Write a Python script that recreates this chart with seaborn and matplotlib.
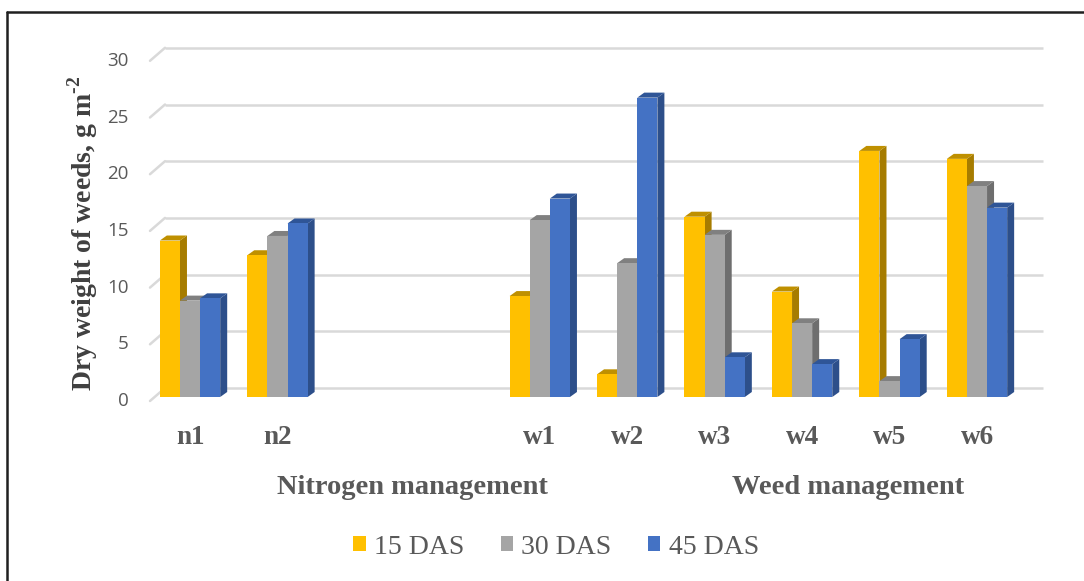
import numpy as np
import pandas as pd
import matplotlib.pyplot as plt
import matplotlib.transforms as mtransforms
from matplotlib.patches import Polygon, Patch
from matplotlib.lines import Line2D
import seaborn as sns

# data (gaps are the two empty slots between groups)
treatments = ["n1", "n2", "gap1", "gap2", "w1", "w2", "w3", "w4", "w5", "w6"]
tick_labels = ["n1", "n2", "", "", "w1", "w2", "w3", "w4", "w5", "w6"]
das_15 = [13.8, 12.5, np.nan, np.nan, 8.9, 2.0, 15.9, 9.3, 21.7, 21.0]
das_30 = [8.5, 14.2, np.nan, np.nan, 15.6, 11.8, 14.3, 6.5, 1.4, 18.6]
das_45 = [8.7, 15.3, np.nan, np.nan, 17.5, 26.4, 3.5, 2.9, 5.1, 16.7]
stages = ["15 DAS", "30 DAS", "45 DAS"]
y_ticks = [0, 5, 10, 15, 20, 25, 30]

front = ["#FFC000", "#A5A5A5", "#4472C4"]
side = ["#A67C00", "#6E6E6E", "#2D4F8A"]
top = ["#BF9000", "#808080", "#2F5597"]

df = pd.DataFrame({"treatment": treatments, "15 DAS": das_15,
                   "30 DAS": das_30, "45 DAS": das_45})
df = df.melt(id_vars="treatment", var_name="stage", value_name="value").dropna()

sns.set_theme(style="white")
plt.rcParams["font.family"] = ["Liberation Serif", "DejaVu Sans"]
plt.rcParams["mathtext.fontset"] = "custom"
plt.rcParams["mathtext.rm"] = "Liberation Serif:bold"
plt.rcParams["mathtext.bf"] = "Liberation Serif:bold"

W, H = 1084, 581
fig = plt.figure(figsize=(W / 100, H / 100), dpi=100)
left_px, right_px, base_px, top_px = 146.3, 1020.7, 397, 56.8
ax = fig.add_axes([left_px / W, (H - base_px) / H,
                   (right_px - left_px) / W, (base_px - top_px) / H])

sns.barplot(data=df, x="treatment", y="value", hue="stage", order=treatments,
            hue_order=stages, palette=front, saturation=1, width=0.69,
            errorbar=None, legend=False, ax=ax, zorder=3, linewidth=0)
ax.set_xlim(-0.5, 9.5)
ax.set_ylim(0, 30)
for s in ax.spines.values():
    s.set_visible(False)
ax.set_xticks([])
ax.set_yticks([])
ax.set_xlabel("")
ax.set_ylabel("")
ax.patch.set_alpha(0)

# pseudo 3D: side and top faces
px_x = (right_px - left_px) / 10.0
px_y = (base_px - top_px) / 30.0
ddx, ddy = 7 / px_x, 5 / px_y
for k, cont in enumerate(ax.containers):
    for p in cont:
        h = p.get_height()
        if not np.isfinite(h) or h == 0:
            continue
        x0, w = p.get_x(), p.get_width()
        x1 = x0 + w
        ax.add_patch(Polygon([(x1, 0), (x1 + ddx, ddy), (x1 + ddx, h + ddy), (x1, h)],
                             closed=True, facecolor=side[k], edgecolor="none", zorder=2))
        ax.add_patch(Polygon([(x0, h), (x0 + ddx, h + ddy), (x1 + ddx, h + ddy), (x1, h)],
                             closed=True, facecolor=top[k], edgecolor="none", zorder=2))

# back wall gridlines with diagonal floor ticks
back = mtransforms.offset_copy(ax.transData, fig=fig, x=15, y=9, units="dots")
diag_front = mtransforms.offset_copy(ax.transData, fig=fig, x=0, y=-4, units="dots")
x_front_left = -0.5 + 3.7 / px_x
x_right = -0.5 + (1028 - left_px) / px_x
for v in y_ticks:
    ax.plot([x_front_left, x_right], [v, v], color="#D9D9D9", lw=1.8,
            transform=back, clip_on=False, zorder=0, solid_capstyle="butt")
    p0 = diag_front.transform((x_front_left, v))
    p1 = back.transform((x_front_left, v))
    fig.add_artist(Line2D([p0[0] / W, p1[0] / W], [p0[1] / H, p1[1] / H],
                          color="#D9D9D9", lw=1.8, zorder=0))
    ax.text(-0.5, v, str(v), transform=mtransforms.offset_copy(
        ax.transData, fig=fig, x=-18, y=-4, units="dots"),
        ha="right", va="center", fontsize=13.5, color="#595959",
        family=["Open Sans", "DejaVu Sans"])

# category labels
for i, lab in enumerate(tick_labels):
    if lab:
        ax.text(i, 0, lab, transform=mtransforms.offset_copy(
            ax.transData, fig=fig, x=0, y=-40, units="dots"),
            ha="center", va="center", fontsize=19.5, fontweight="bold", color="#595959")

fig.text(412 / W, 1 - 488 / H, "Nitrogen management", ha="center", va="center",
         fontsize=20.5, fontweight="bold", color="#595959")
fig.text(848 / W, 1 - 488 / H, "Weed management", ha="center", va="center",
         fontsize=20.5, fontweight="bold", color="#595959")

fig.text(83 / W, 1 - 233 / H, r"Dry weight of weeds, g m$^{\text{-2}}$",
         rotation=90, ha="center", va="center", fontsize=20,
         fontweight="bold", color="#404040")

handles = [Patch(facecolor=c, edgecolor="none") for c in front]
fig.legend(handles, stages, loc="center", bbox_to_anchor=(556 / W, 1 - 547 / H),
           ncol=3, frameon=False, fontsize=20, handlelength=0.45, handleheight=0.45,
           handletextpad=0.3, columnspacing=1.3, labelcolor="#595959")

# frame lines (top and left)
fig.add_artist(Line2D([7 / W, 1], [1 - 12 / H, 1 - 12 / H], color="#202020", lw=1.8))
fig.add_artist(Line2D([7 / W, 7 / W], [0, 1 - 12 / H], color="#202020", lw=1.8))

fig.savefig("out.png", dpi=100)
